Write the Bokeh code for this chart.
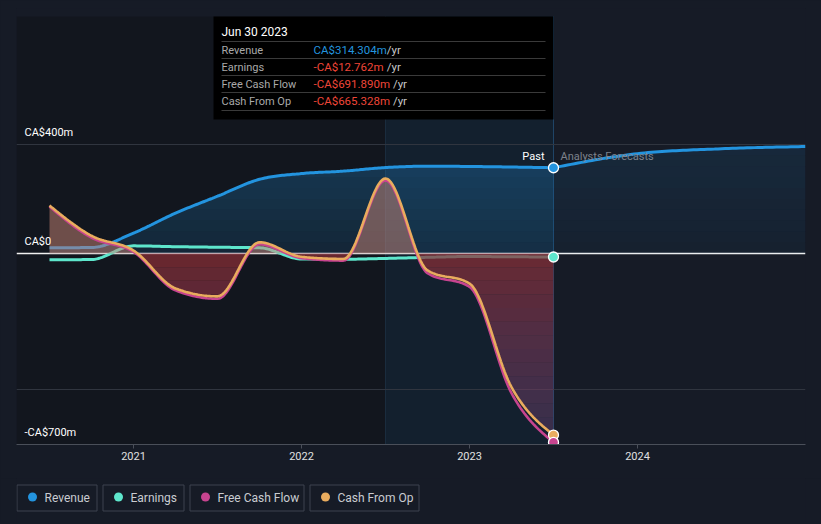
import numpy as np
from bokeh.plotting import figure
from bokeh.models import Range1d, FixedTicker, Span, BoxAnnotation
from bokeh.layouts import column
from bokeh.embed import file_html
from bokeh.resources import INLINE
from bokeh.core.properties import value

# ---------------- data (CA$ millions) ----------------
PAST_DATES = [2020.5, 2020.75, 2021.0, 2021.25, 2021.5, 2021.75, 2022.0,
              2022.25, 2022.5, 2022.75, 2023.0, 2023.25, 2023.5]
REVENUE = [21, 22, 75, 148, 210, 272, 293, 302, 315, 320, 319, 317, 314.304]
EARNINGS = [-23, -22, 28, 25, 23, 21, -20, -21, -18, -14, -11, -12, -12.762]
FREE_CASH_FLOW = [172, 58, 6, -135, -166, 34, -17, -26, 268, -72, -122, -512, -691.890]
CASH_FROM_OP = [176, 65, 11, -128, -157, 41, -12, -20, 275, -62, -110, -490, -665.328]
FORECAST_DATES = [2023.5, 2024.0, 2024.5, 2025.0]
REVENUE_FORECAST = [314.304, 366, 384, 392]
X_TICKS = [2021, 2022, 2023, 2024]
Y_GRID = [400, -500]
Y_LABEL_VALUES = [400, 0, -700]
Y_LABELS = ["CA$400m", "CA$0", "-CA$700m"]
SERIES = ["Revenue", "Earnings", "Free Cash Flow", "Cash From Op"]
HIGHLIGHT = [2022.5, 2023.5]
TOOLTIP_DATE = "Jun 30 2023"

# ---------------- styles ----------------
BG = "#161b26"
PAST_BG = "#12161e"
HL_BG = "#13202e"
C_REV, C_EARN, C_FCF, C_CFO = "#2394df", "#5ee6cc", "#c7448f", "#e9ac5e"
SERIES_COLORS = [C_REV, C_EARN, C_FCF, C_CFO]
FONT = value("Roboto")

# frame geometry (page px): x 16..805, y 8..444
X_START = 2021 - (133 - 16) / 168.0
X_END = 2021 + (805 - 133) / 168.0
Y_START, Y_END = -700, 898
PX_PER_M = 436.0 / (Y_END - Y_START)


def px2x(px):
    return X_START + (px - 16) / 168.0


def px2y(py):
    return Y_START + (444 - py) / PX_PER_M


def smooth(xs, ys, n=24):
    """monotone cubic path through the data points (d3 curveMonotoneX)."""
    xs = np.asarray(xs, float)
    ys = np.asarray(ys, float)
    h = np.diff(xs)
    s = np.diff(ys) / h
    m = np.zeros_like(ys)
    for i in range(1, len(xs) - 1):
        s0, s1 = s[i - 1], s[i]
        p = (s0 * h[i] + s1 * h[i - 1]) / (h[i - 1] + h[i])
        m[i] = (np.sign(s0) + np.sign(s1)) * min(abs(s0), abs(s1), 0.5 * abs(p))
    m[0] = (3 * s[0] - m[1]) / 2
    m[-1] = (3 * s[-1] - m[-2]) / 2
    X, Y = [], []
    for i in range(len(xs) - 1):
        t = np.linspace(0, 1, n, endpoint=(i == len(xs) - 2))
        h00 = 2 * t**3 - 3 * t**2 + 1
        h10 = t**3 - 2 * t**2 + t
        h01 = -2 * t**3 + 3 * t**2
        h11 = t**3 - t**2
        X.extend(xs[i] + t * h[i])
        Y.extend(h00 * ys[i] + h10 * h[i] * m[i] + h01 * ys[i + 1] + h11 * h[i] * m[i + 1])
    return np.array(X), np.array(Y)


def hexc(rgb):
    return "#%02x%02x%02x" % tuple(int(round(c)) for c in rgb)


p = figure(width=821, height=478, x_range=Range1d(X_START, X_END),
           y_range=Range1d(Y_START, Y_END), toolbar_location=None,
           output_backend="svg", y_axis_location=None, min_border=0,
           min_border_left=16, min_border_right=16, min_border_top=8,
           min_border_bottom=34, background_fill_color=BG,
           border_fill_color=BG, outline_line_color=None)

# background regions (start at the tooltip's top edge)
REG_TOP = px2y(16)
p.add_layout(BoxAnnotation(right=HIGHLIGHT[1], top=REG_TOP, fill_color=PAST_BG,
                           fill_alpha=1, line_color=None, level="image"))
p.add_layout(BoxAnnotation(left=HIGHLIGHT[0], right=HIGHLIGHT[1], top=REG_TOP,
                           fill_color=HL_BG, fill_alpha=1, line_color=None,
                           level="image"))
p.segment(x0=[HIGHLIGHT[0]], x1=[HIGHLIGHT[0]], y0=[Y_START], y1=[REG_TOP],
          line_color="#1a2c3e", line_width=1, level="underlay")
p.segment(x0=[HIGHLIGHT[1]], x1=[HIGHLIGHT[1]], y0=[Y_START], y1=[REG_TOP],
          line_color="#1f4466", line_width=1, level="underlay")

# grid
p.xgrid.visible = False
p.ygrid.ticker = FixedTicker(ticks=Y_GRID)
p.ygrid.grid_line_color = "#30353f"
p.add_layout(Span(location=0, dimension="width", line_color="#f0f0f0",
                  line_width=1.3, level="underlay"))

# x axis
ax = p.xaxis[0]
ax.ticker = FixedTicker(ticks=X_TICKS)
ax.major_label_overrides = {t: str(t) for t in X_TICKS}
ax.axis_line_color = "#4a4f59"
ax.major_tick_line_color = "#4a4f59"
ax.major_tick_in = 0
ax.major_tick_out = 4
ax.minor_tick_line_color = None
ax.major_label_text_color = "#e0e0e0"
ax.major_label_text_font = "Roboto"
ax.major_label_text_font_size = "11px"
ax.major_label_standoff = 3

# series paths
rx, ry = smooth(PAST_DATES, REVENUE)
fx, fy = smooth(FORECAST_DATES, REVENUE_FORECAST)
ex, ey = smooth(PAST_DATES, EARNINGS)
px_, py_ = smooth(PAST_DATES, FREE_CASH_FLOW)
cx, cy = smooth(PAST_DATES, CASH_FROM_OP)

# revenue fill (vertical gradient done in bands)
NB = 10
top = 400.0
for k in range(NB):
    lo, hi = top * k / NB, top * (k + 1) / NB
    a = 0.13 + 0.17 * (k + 0.5) / NB
    p.varea(x=rx, y1=np.minimum(ry, lo), y2=np.minimum(ry, hi),
            fill_color=C_REV, fill_alpha=a)
    p.varea(x=fx, y1=np.minimum(fy, lo), y2=np.minimum(fy, hi),
            fill_color=C_REV, fill_alpha=a * 0.4)
p.line(rx, ry, line_color=C_REV, line_width=3)
p.line(fx, fy, line_color=C_REV, line_width=3)
# earnings
p.line(ex, ey, line_color=C_EARN, line_width=3)
# cash from op fill: positive part
p.varea(x=cx, y1=0, y2=np.maximum(cy, 0), fill_color="#c98575", fill_alpha=0.5)
# negative part, vertical gradient in bands
NBN = 14
depth = 700.0
c0, c1 = np.array([140, 45, 52]), np.array([110, 70, 125])
yneg = np.minimum(cy, 0)
for k in range(NBN):
    hi, lo = -depth * k / NBN, -depth * (k + 1) / NBN
    t = (k + 0.5) / NBN
    col = hexc(c0 + (c1 - c0) * t)
    a = 0.72 + (0.38 - 0.72) * t
    p.varea(x=cx, y1=np.clip(yneg, lo, hi), y2=np.full_like(cx, hi),
            fill_color=col, fill_alpha=a)
# cash flow lines
p.line(px_, py_, line_color=C_FCF, line_width=2.6)
p.line(cx, cy, line_color=C_CFO, line_width=2.6)

# end markers
last = PAST_DATES[-1]
p.scatter(x=[last] * 4,
          y=[REVENUE[-1], EARNINGS[-1], CASH_FROM_OP[-1], FREE_CASH_FLOW[-1]],
          fill_color=[C_REV, C_EARN, C_CFO, C_FCF], line_color="#ffffff",
          line_width=1.3, size=10)

# y labels
p.text(x=[X_START] * 3, y=Y_LABEL_VALUES, text=Y_LABELS, text_font=FONT,
       text_font_size="11px", text_color="#ffffff", text_baseline="middle",
       text_align="left", x_offset=8, y_offset=-12)

# past / forecast labels
p.text(x=[px2x(544)], y=[px2y(156)], text=["Past"], text_font=FONT,
       text_font_size="11px", text_color="#ffffff", text_align="right",
       text_baseline="middle")
p.text(x=[px2x(560)], y=[px2y(156)], text=["Analysts Forecasts"], text_font=FONT,
       text_font_size="11px", text_color="#7d828c", text_align="left",
       text_baseline="middle")

# tooltip
p.quad(left=px2x(213), right=px2x(553), top=px2y(16), bottom=px2y(119),
       fill_color="#000000", line_color=None, level="overlay")
sep_y = [41, 58, 75, 92, 110]
p.segment(x0=[px2x(221)] * 5, x1=[px2x(545)] * 5, y0=[px2y(v) for v in sep_y],
          y1=[px2y(v) for v in sep_y], line_color="#3a3a3a", line_width=1,
          level="overlay")
p.text(x=[px2x(221)], y=[px2y(31)], text=[TOOLTIP_DATE], text_font=FONT,
       text_font_size="12px", text_font_style="normal", text_color="#ffffff",
       text_baseline="middle", level="overlay")


def fmt(v):
    return ("-" if v < 0 else "") + f"CA${abs(v):.3f}m"


row_y = [49.5, 66.5, 83.5, 100.5]
vals = [REVENUE[-1], EARNINGS[-1], FREE_CASH_FLOW[-1], CASH_FROM_OP[-1]]
texts = [fmt(v) for v in vals]
vcols = [C_REV if i == 0 else "#ef4638" for i in range(4)]
p.text(x=[px2x(221)] * 4, y=[px2y(v) for v in row_y], text=SERIES, text_font=FONT,
       text_font_size="11px", text_color="#a9a9a9", text_baseline="middle",
       level="overlay")
p.text(x=[px2x(313)] * 4, y=[px2y(v) for v in row_y], text=texts, text_font=FONT,
       text_font_size="11.5px", text_color=vcols, text_baseline="middle",
       level="overlay")
p.text(x=[px2x(313 + len(t) * 6.2 + 5) for t in texts], y=[px2y(v) for v in row_y],
       text=["/yr"] * 4, text_font=FONT, text_font_size="11.5px",
       text_color="#c8c8c8", text_baseline="middle", level="overlay")

# ---------------- legend figure (page px coordinates) ----------------
# the column aligns both frames, so this frame also spans page x 16..805
leg = figure(width=821, height=44, x_range=Range1d(16, 805), y_range=Range1d(522, 478),
             toolbar_location=None, output_backend="svg", x_axis_location=None,
             y_axis_location=None, min_border=0, min_border_left=16,
             min_border_right=16, min_border_top=0, min_border_bottom=0,
             background_fill_color=BG, border_fill_color=BG, outline_line_color=None)
leg.xgrid.visible = False
leg.ygrid.visible = False
LEG_LEFT = [16.5, 102.5, 189.5, 309.5]
LEG_RIGHT = [96.5, 183.5, 303.5, 418.5]
leg.quad(left=LEG_LEFT, right=LEG_RIGHT, top=[484.5] * 4, bottom=[510.5] * 4,
         fill_color=BG, line_color="#3d434e", line_width=1)
leg.scatter(x=[l + 15.5 for l in LEG_LEFT], y=[496.5] * 4, size=9,
            fill_color=SERIES_COLORS, line_color=None)
leg.text(x=[l + 27.5 for l in LEG_LEFT], y=[497] * 4, text=SERIES, text_font=FONT,
         text_font_size="12px", text_color="#c9ccd1", text_baseline="middle")

layout = column(p, leg, spacing=0)
html = file_html(layout, INLINE, title="chart")
html = html.replace("</head>", "<style>body{background:#161b26;}</style></head>", 1)
open("out.html", "w").write(html)
